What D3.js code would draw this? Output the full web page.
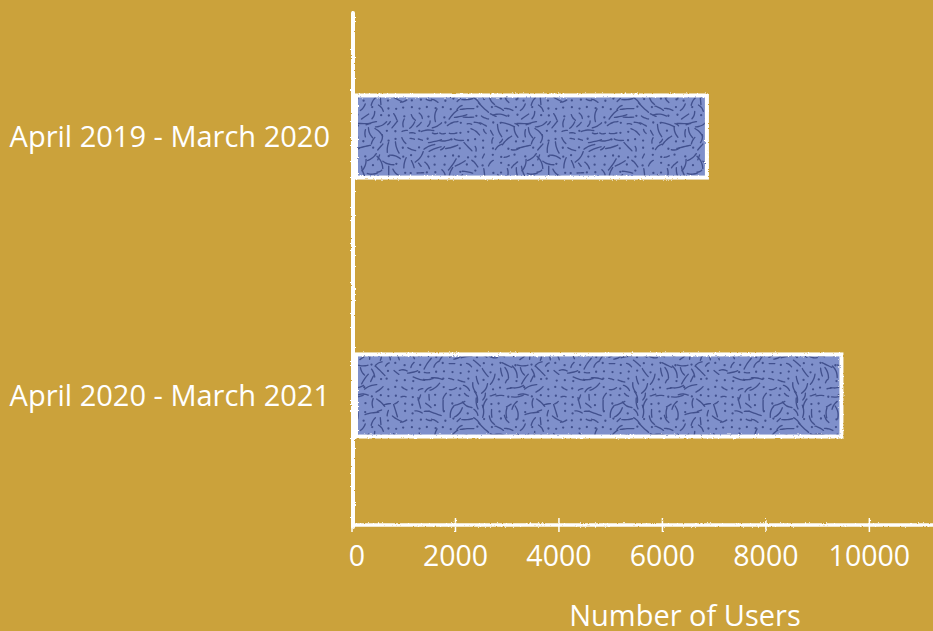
<!DOCTYPE html>
<html><head><meta charset="utf-8">
<script src="https://cdn.jsdelivr.net/npm/d3@7"></script>
<style>html,body{margin:0;padding:0;background:#CBA23B;}svg{display:block;}</style>
</head><body>
<script>
const categories = ["April 2019 - March 2020", "April 2020 - March 2021"];
const users = [6860, 9460];
const xTicks = [0, 2000, 4000, 6000, 8000, 10000];
const xTitle = "Number of Users";

const W = 933, H = 631;
const bg = "#CBA23B", barFill = "#7F90CB", texColor = "#41508D";
const svg = d3.select("body").append("svg").attr("width", W).attr("height", H);
svg.append("rect").attr("width", W).attr("height", H).attr("fill", bg);

const defs = svg.append("defs");
const rough = defs.append("filter").attr("id", "rough").attr("x", "-5%").attr("y", "-5%").attr("width", "110%").attr("height", "110%");
rough.append("feTurbulence").attr("type", "fractalNoise").attr("baseFrequency", 0.6).attr("numOctaves", 2).attr("seed", 3).attr("result", "n");
rough.append("feDisplacementMap").attr("in", "SourceGraphic").attr("in2", "n").attr("scale", 2.4).attr("xChannelSelector", "R").attr("yChannelSelector", "G");

// decorative labyrinth texture (seeded, not data)
let seed = 4242;
const rnd = () => { seed = (seed * 16807) % 2147483647; return (seed - 1) / 2147483646; };
const tile = 160, cell = 8;
const TP = 2 * Math.PI / tile;
const flow = (px, py) => 1.6 * Math.sin(TP * px + 0.7) + 1.3 * Math.cos(2 * TP * py + 1.1) + 0.9 * Math.sin(TP * (px + 2 * py));
const pat = defs.append("pattern").attr("id", "tex").attr("patternUnits", "userSpaceOnUse").attr("width", tile).attr("height", tile);
pat.append("rect").attr("width", tile).attr("height", tile).attr("fill", barFill);
const line = d3.line().curve(d3.curveBasis);
const gp = pat.append("g");
for (let gx = 0; gx < tile; gx += cell) {
  for (let gy = 0; gy < tile; gy += cell) {
    const cx = gx + cell / 2 + (rnd() - 0.5) * 3, cy = gy + cell / 2 + (rnd() - 0.5) * 3;
    const r = rnd();
    if (r < 0.38) {
      [-tile, 0, tile].forEach(dx => [-tile, 0, tile].forEach(dy => {
        if (Math.abs(dx) + Math.abs(dy) > 0 && !(cx + dx > -10 && cx + dx < tile + 10 && cy + dy > -10 && cy + dy < tile + 10)) return;
        gp.append("circle").attr("cx", cx + dx).attr("cy", cy + dy).attr("r", 1.15).attr("fill", texColor);
      }));
    } else {
      const len = 4 + rnd() * 10;
      const a0 = flow(cx, cy) + (rnd() - 0.5) * 0.5;
      const steps = 4;
      const pts = [];
      let px = cx - Math.cos(a0) * len / 2, py = cy - Math.sin(a0) * len / 2;
      pts.push([px, py]);
      const bend = (rnd() - 0.5) * 0.5;
      for (let k = 0; k < steps; k++) { const a = a0 + bend * (k - 1.5); px += Math.cos(a) * len / steps; py += Math.sin(a) * len / steps; pts.push([px, py]); }
      [-tile, 0, tile].forEach(dx => [-tile, 0, tile].forEach(dy => {
        if (Math.abs(dx) + Math.abs(dy) > 0 && !(cx + dx > -14 && cx + dx < tile + 14 && cy + dy > -14 && cy + dy < tile + 14)) return;
        gp.append("path").attr("d", line(pts.map(p => [p[0] + dx, p[1] + dy])))
          .attr("fill", "none").attr("stroke", texColor).attr("stroke-width", 1.35).attr("stroke-linecap", "round");
      }));
    }
  }
}

const x = d3.scaleLinear().domain([0, 11230]).range([352, 933]);
const y = d3.scaleBand().domain(categories).range([10, 522]).paddingInner(0.683).paddingOuter(0.33);

// bars
svg.append("g").selectAll("rect").data(categories).join("rect")
  .attr("x", x(0) + 4).attr("y", d => y(d))
  .attr("width", (d, i) => x(users[i]) - x(0) - 4).attr("height", y.bandwidth())
  .attr("fill", "url(#tex)");
svg.append("g").attr("filter", "url(#rough)").selectAll("rect").data(categories).join("rect")
  .attr("x", x(0) + 4).attr("y", d => y(d))
  .attr("width", (d, i) => x(users[i]) - x(0) - 4).attr("height", y.bandwidth())
  .attr("fill", "none").attr("stroke", "#fff").attr("stroke-width", 4);

// axes
const axY = 525;
const ag = svg.append("g").attr("filter", "url(#rough)");
ag.append("line").attr("x1", x(0) + 1).attr("x2", x(0) + 1).attr("y1", 13).attr("y2", axY + 2).attr("stroke", "#fff").attr("stroke-width", 4).attr("stroke-linecap", "round");
ag.append("line").attr("x1", x(0)).attr("x2", W).attr("y1", axY).attr("y2", axY).attr("stroke", "#fff").attr("stroke-width", 3.5);
ag.selectAll(".tk").data(xTicks).join("line").attr("class", "tk")
  .attr("x1", d => x(d)).attr("x2", d => x(d)).attr("y1", axY - 7).attr("y2", axY + 7)
  .attr("stroke", "#fff").attr("stroke-width", 1.5);

const font = "'Open Sans', sans-serif";
svg.append("g").selectAll("text").data(xTicks).join("text")
  .attr("x", d => x(d) + (d === 0 ? 5 : 0)).attr("y", 566).attr("text-anchor", "middle")
  .attr("fill", "#fff").attr("font-family", font).attr("font-size", 28.5).text(d => d);

svg.append("g").selectAll("text").data(categories).join("text")
  .attr("x", 330).attr("y", d => y(d) + y.bandwidth() / 2).attr("dy", "0.36em").attr("text-anchor", "end")
  .attr("fill", "#fff").attr("font-family", font).attr("font-size", 29).text(d => d);

svg.append("text").attr("x", 685).attr("y", 626).attr("text-anchor", "middle")
  .attr("fill", "#fff").attr("font-family", font).attr("font-size", 29).text(xTitle);
</script>
</body></html>
